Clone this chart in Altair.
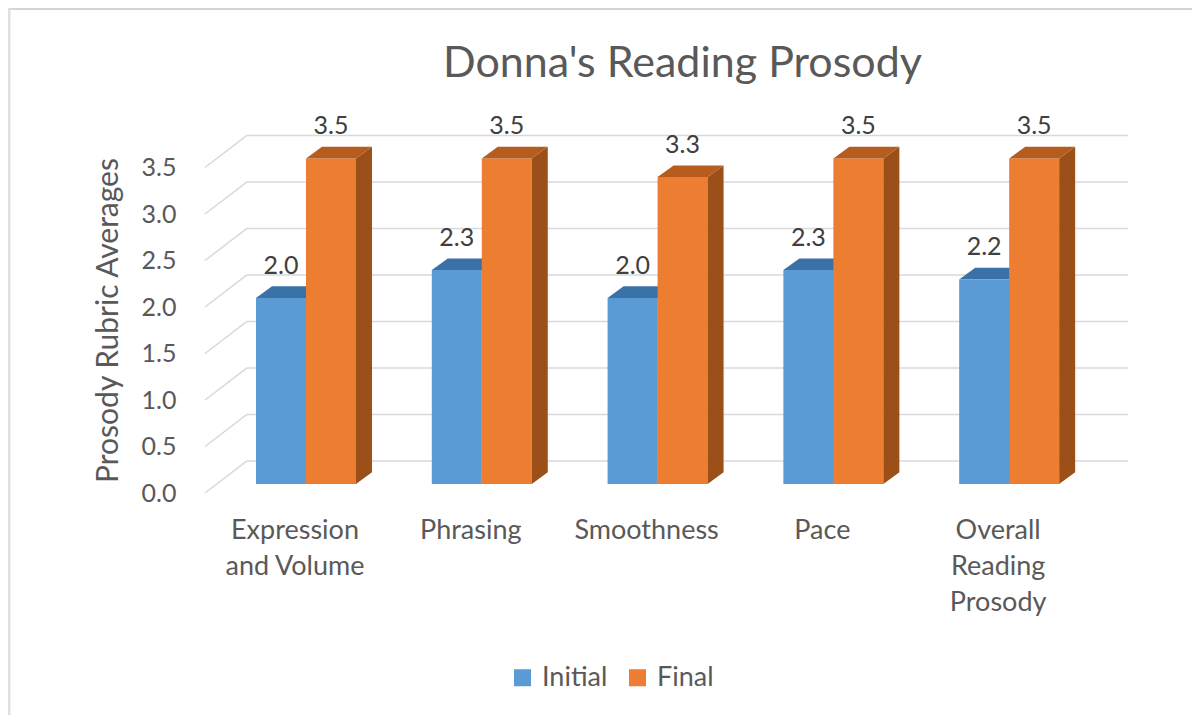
import altair as alt
import pandas as pd

categories = ["Expression\nand Volume", "Phrasing", "Smoothness", "Pace", "Overall\nReading\nProsody"]
initial = [2.0, 2.3, 2.0, 2.3, 2.2]
final = [3.5, 3.5, 3.3, 3.5, 3.5]
series_names = ["Initial", "Final"]
y_ticks = [0.0, 0.5, 1.0, 1.5, 2.0, 2.5, 3.0, 3.5]

FONT = "Lato"
TEXT = "#595959"
GRID = "#D9D9D9"
FRONT = {"Initial": "#5B9BD5", "Final": "#ED7D31"}
TOP = {"Initial": "#3A72A8", "Final": "#B65C1E"}
SIDE = {"Initial": "#2F6496", "Final": "#9C5019"}

# geometry in data units (x: one category step; y: rubric points)
BAR_W = 0.2844
DX = 0.091      # bar depth, horizontally
DY = 0.125      # bar depth, vertically
BASE = 0.097    # floor lift of the bar's front face
WALL_DX = 0.239
WALL_DY = 0.345
X_MIN, X_MAX = -0.5745, 4.676

x_scale = alt.Scale(domain=[X_MIN, X_MAX], nice=False, zero=False)
y_scale = alt.Scale(domain=[0, 4], nice=False, zero=False)
y_axis = alt.Axis(values=y_ticks, format=".1f", domain=False, ticks=False, grid=False,
                  labelPadding=29, labelFont=FONT, labelFontSize=25, labelColor=TEXT,
                  titleFont=FONT, titleFontSize=30, titleColor=TEXT, titleFontWeight="normal",
                  titlePadding=18, titleY=199, title="Prosody Rubric Averages")

bars = []
side = []
top = []
for i, cat in enumerate(categories):
    for s, vals in zip(series_names, [initial, final]):
        v = vals[i]
        l = i - BAR_W if s == "Initial" else i
        r = l + BAR_W
        bars.append(dict(cat=cat, series=s, value=v, label=f"{v:.1f}", l=l, r=r, mid=(l + r) / 2,
                         y0=BASE, y1=v + BASE))
        side.append(dict(key=f"{i}{s}", series=s, x=r, y=v + BASE, y2=BASE))
        side.append(dict(key=f"{i}{s}", series=s, x=r + DX, y=v + BASE + DY, y2=BASE + DY))
        top.append(dict(key=f"{i}{s}", series=s, y=v + BASE, x=l, x2=r))
        top.append(dict(key=f"{i}{s}", series=s, y=v + BASE + DY, x=l + DX, x2=r + DX))
bars = pd.DataFrame(bars)
side = pd.DataFrame(side)
top = pd.DataFrame(top)
grid = pd.DataFrame(dict(v=y_ticks))
grid["wall"] = grid.v + WALL_DY
grid["x0"] = X_MIN
grid["x1"] = X_MIN + WALL_DX
grid["x2"] = X_MAX
cats = pd.DataFrame(dict(cat=categories, i=range(len(categories)), y=[0.0] * len(categories)))

X = alt.X("x:Q", scale=x_scale, axis=None)


def Y(field):
    return alt.Y(field, scale=y_scale, axis=y_axis)


diagonals = alt.Chart(grid).mark_rule(color=GRID, strokeWidth=1.5).encode(
    x=alt.X("x0:Q", scale=x_scale, axis=None),
    x2="x1:Q",
    y=Y("v:Q"),
    y2="wall:Q",
)
wall_layer = alt.Chart(grid).mark_rule(color=GRID, strokeWidth=1.5).encode(
    x=alt.X("x1:Q", scale=x_scale, axis=None),
    x2="x2:Q",
    y=Y("wall:Q"),
)


def side_layer(s):
    return alt.Chart(side).transform_filter(alt.datum.series == s).mark_area(color=SIDE[s]).encode(
        x=X, y=Y("y:Q"), y2="y2:Q", detail="key:N",
    )


def top_layer(s):
    return alt.Chart(top).transform_filter(alt.datum.series == s).mark_area(color=TOP[s], orient="horizontal").encode(
        y=Y("y:Q"), x=X, x2="x2:Q", detail="key:N",
    )


front = alt.Chart(bars).mark_rect().encode(
    x=alt.X("l:Q", scale=x_scale, axis=None),
    x2="r:Q",
    y=Y("y0:Q"),
    y2="y1:Q",
    color=alt.Color("series:N",
                    scale=alt.Scale(domain=series_names, range=[FRONT[s] for s in series_names]),
                    legend=alt.Legend(title=None, orient="none", legendX=304, legendY=543, direction="horizontal",
                                      symbolType="square", symbolSize=289, symbolStrokeWidth=0,
                                      labelFont=FONT, labelFontSize=27, labelColor=TEXT, columnPadding=16,
                                      labelOffset=6)),
)

labels = alt.Chart(bars).mark_text(font=FONT, fontSize=25, color="#404040", dy=-32, baseline="middle").encode(
    x=alt.X("mid:Q", scale=x_scale, axis=None),
    y=Y("y1:Q"),
    text="label:N",
)

cat_labels = alt.Chart(cats).mark_text(font=FONT, fontSize=27, color=TEXT, dx=-11, dy=38, baseline="middle",
                                       lineBreak="\n", lineHeight=36).encode(
    x=alt.X("i:Q", scale=x_scale, axis=None),
    y=Y("y:Q"),
    text="cat:N",
)

# the faint frame of the original picture, along its top and left edges
frame_top = alt.Chart(grid.head(1)).mark_rule(color="#D4D4D4", strokeWidth=2).encode(
    x=alt.value(-197), x2=alt.value(987), y=alt.value(-112))
frame_left = alt.Chart(grid.head(1)).mark_rule(color="#E0E0E0", strokeWidth=3).encode(
    x=alt.value(-196), y=alt.value(-113), y2=alt.value(594))

chart = alt.layer(
    frame_top, frame_left, diagonals, wall_layer,
    side_layer("Initial"), top_layer("Initial"),
    front,
    side_layer("Final"), top_layer("Final"),
    labels, cat_labels,
).properties(
    width=923, height=372,
    title=alt.TitleParams("Donna's Reading Prosody", font=FONT, fontSize=43, color=TEXT, fontWeight="normal",
                          anchor="middle", dx=16, dy=79, offset=0),
    autosize=alt.AutoSizeParams(type="none"),
    padding={"left": 197, "top": 113, "right": 64, "bottom": 222},
).configure_view(stroke=None)

chart.save("out.html", embed_options={"renderer": "svg", "actions": False})
